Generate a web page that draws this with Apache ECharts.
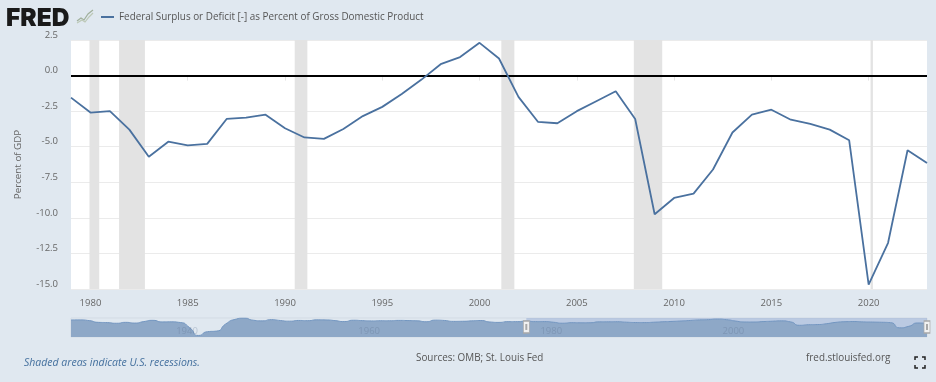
<!DOCTYPE html>
<html>
<head>
<meta charset="utf-8">
<style>
  html, body { margin: 0; padding: 0; background: #e0e8f0; }
  #chart { width: 936px; height: 382px; }
</style>
<script src="https://cdn.jsdelivr.net/npm/echarts@6/dist/echarts.min.js"></script>
</head>
<body>
<div id="chart"></div>
<script>
const seriesName = 'Federal Surplus or Deficit [-] as Percent of Gross Domestic Product';

// annual values, 1979 to 2023
const mainStartYear = 1979;
const deficit = [
  -1.55, -2.6, -2.5, -3.8, -5.7, -4.65, -4.9, -4.8, -3.05, -2.95,
  -2.75, -3.7, -4.35, -4.45, -3.75, -2.85, -2.2, -1.3, -0.3, 0.8,
  1.3, 2.3, 1.2, -1.5, -3.25, -3.35, -2.5, -1.8, -1.1, -3.05,
  -9.75, -8.6, -8.3, -6.6, -4.0, -2.75, -2.4, -3.1, -3.4, -3.8,
  -4.55, -14.7, -11.75, -5.25, -6.15
];

// navigator only, 1929 to 1978
const navStartYear = 1929;
const history = [
  0.7, 0.8, -0.6, -4.0, -4.5, -5.8, -4.0, -5.4, -2.5, -0.1,
  -3.2, -3.0, -4.3, -13.9, -29.6, -22.2, -21.0, -7.0, 1.7, 4.5,
  0.2, -1.1, 1.3, -0.4, -1.7, -0.3, -0.7, 0.9, 0.7, -0.6,
  -2.5, 0.1, -0.6, -1.2, -0.8, -0.9, -0.2, -0.5, -1.0, -2.8,
  0.3, -0.3, -2.1, -1.9, -1.1, -0.4, -3.3, -4.1, -2.6, -2.6
];

const recessions = [
  [1979.95, 1980.45],
  [1981.47, 1982.8],
  [1990.5, 1991.15],
  [2001.12, 2001.79],
  [2007.93, 2009.39],
  [2020.1, 2020.22]
];

const xTicks = [1980, 1985, 1990, 1995, 2000, 2005, 2010, 2015, 2020];
const navTicks = [1940, 1960, 1980, 2000];
const yTicks = { min: -15, max: 2.5, step: 2.5 };

const mainData = deficit.map((v, i) => [mainStartYear + i, v]);
const navData = history.concat(deficit).map((v, i) => [navStartYear + i, v]);
const lastYear = mainStartYear + deficit.length - 1;

const textColor = '#666';
const font = '"Open Sans", sans-serif';

const chart = echarts.init(document.getElementById('chart'));
chart.setOption({
  backgroundColor: '#e0e8f0',
  animation: false,
  textStyle: { fontFamily: font },
  legend: {
    left: 96,
    top: 7,
    data: [seriesName],
    icon: 'rect',
    itemWidth: 13,
    itemHeight: 2,
    itemGap: 5,
    textStyle: { color: '#555', fontSize: 9.9, fontFamily: font }
  },
  grid: [
    { left: 71, right: 9, top: 40, height: 249, show: true, backgroundColor: '#fff', borderWidth: 0 },
    { left: 71, right: 9, top: 318, height: 19, show: true, backgroundColor: 'rgba(0,0,0,0)', borderWidth: 1, borderColor: '#d3dbe4' }
  ],
  xAxis: [
    {
      type: 'value',
      gridIndex: 0,
      min: mainStartYear,
      max: lastYear,
      splitLine: { show: false },
      axisLine: { show: false },
      axisTick: { show: true, length: 5, customValues: xTicks, lineStyle: { color: '#e4e4e4' } },
      axisLabel: {
        customValues: xTicks,
        color: textColor,
        fontSize: 9.5,
        margin: 9,
        formatter: v => String(v)
      }
    },
    {
      type: 'value',
      gridIndex: 1,
      z: 4,
      min: navStartYear,
      max: lastYear,
      splitLine: { show: false },
      axisLine: { show: false },
      axisTick: { show: false },
      axisLabel: {
        inside: true,
        customValues: navTicks,
        color: 'rgba(90,110,140,0.3)',
        fontSize: 9.5,
        align: 'left',
        margin: 1,
        padding: [0, 0, 0, 5],
        formatter: v => String(v)
      }
    }
  ],
  yAxis: [
    {
      type: 'value',
      gridIndex: 0,
      min: yTicks.min,
      max: yTicks.max,
      interval: yTicks.step,
      name: 'Percent of GDP',
      nameLocation: 'middle',
      nameGap: 48,
      nameTextStyle: { color: textColor, fontSize: 9.8, fontFamily: font },
      axisLine: { show: false },
      axisTick: { show: false },
      splitLine: { lineStyle: { color: '#ebebeb', width: 1 } },
      axisLabel: {
        color: textColor,
        fontSize: 9.5,
        margin: 13,
        verticalAlign: 'bottom',
        verticalAlignMinLabel: 'bottom',
        verticalAlignMaxLabel: 'bottom',
        showMinLabel: true,
        showMaxLabel: true,
        formatter: v => v.toFixed(1)
      }
    },
    {
      type: 'value',
      gridIndex: 1,
      min: -32.6,
      max: 4.5,
      axisLine: { show: false },
      axisTick: { show: false },
      axisLabel: { show: false },
      splitLine: { show: false }
    }
  ],
  series: [
    {
      name: seriesName,
      type: 'line',
      xAxisIndex: 0,
      yAxisIndex: 0,
      data: mainData,
      symbol: 'none',
      z: 5,
      lineStyle: { color: '#4a719f', width: 1.8 },
      itemStyle: { color: '#4a719f' },
      markArea: {
        silent: true,
        itemStyle: { color: '#e3e3e3' },
        data: recessions.map(r => [{ xAxis: r[0] }, { xAxis: r[1] }])
      },
      markLine: {
        silent: true,
        symbol: 'none',
        label: { show: false },
        lineStyle: { color: '#000', width: 2, type: 'solid' },
        data: [{ yAxis: 0 }]
      }
    },
    {
      name: 'navigator',
      type: 'line',
      xAxisIndex: 1,
      yAxisIndex: 1,
      data: navData,
      symbol: 'none',
      smooth: 0.7,
      lineStyle: { color: '#7396c0', width: 1 },
      areaStyle: { color: '#8ea8c7', opacity: 1, origin: 'start' },
      markArea: {
        silent: true,
        itemStyle: { color: 'rgba(102,133,194,0.3)' },
        data: [[{ xAxis: mainStartYear, yAxis: -32.6 }, { xAxis: lastYear, yAxis: 4.5 }]]
      },
      markPoint: {
        silent: true,
        symbol: 'rect',
        label: { show: false },
        data: [
          { xAxis: mainStartYear, yAxis: -13, symbolSize: [6, 12], itemStyle: { color: '#f2f2f2', borderColor: '#a9a9a9', borderWidth: 1 } },
          { xAxis: lastYear, yAxis: -13, symbolSize: [6, 12], itemStyle: { color: '#f2f2f2', borderColor: '#a9a9a9', borderWidth: 1 } },
          { xAxis: mainStartYear, yAxis: -13, symbolSize: [2, 6], itemStyle: { color: '#a9a9a9' } },
          { xAxis: lastYear, yAxis: -13, symbolSize: [2, 6], itemStyle: { color: '#a9a9a9' } }
        ]
      }
    }
  ],
  graphic: [
    // FRED logo
    { type: 'text', left: 6, top: 6, style: { text: 'FRED', fill: '#1a1a1a', font: '900 24.5px Inter, sans-serif' } },
    { type: 'polyline', shape: { points: [[77, 21], [81, 18], [84, 20], [88, 14], [93, 10]] }, style: { stroke: '#a0b09c', lineWidth: 1.2, fill: null } },
    { type: 'polyline', shape: { points: [[77, 23], [82, 20], [85, 22], [89, 17], [93, 13]] }, style: { stroke: '#bcc8b6', lineWidth: 1.2, fill: null } },
    // footer
    { type: 'text', left: 24, top: 358, style: { text: 'Shaded areas indicate U.S. recessions.', fill: '#44709e', font: 'italic 10.5px "Open Sans", sans-serif' } },
    { type: 'text', left: 416, top: 353, style: { text: 'Sources: OMB; St. Louis Fed', fill: '#555', font: '9.9px "Open Sans", sans-serif' } },
    { type: 'text', left: 806, top: 353, style: { text: 'fred.stlouisfed.org', fill: '#555', font: '9.9px "Open Sans", sans-serif' } },
    // fullscreen icon
    { type: 'polyline', shape: { points: [[915, 360], [915, 357], [918, 357]] }, style: { stroke: '#222', lineWidth: 1.5, fill: null } },
    { type: 'polyline', shape: { points: [[922, 357], [925, 357], [925, 360]] }, style: { stroke: '#222', lineWidth: 1.5, fill: null } },
    { type: 'polyline', shape: { points: [[915, 365], [915, 368], [918, 368]] }, style: { stroke: '#222', lineWidth: 1.5, fill: null } },
    { type: 'polyline', shape: { points: [[922, 368], [925, 368], [925, 365]] }, style: { stroke: '#222', lineWidth: 1.5, fill: null } }
  ]
});
</script>
</body>
</html>
